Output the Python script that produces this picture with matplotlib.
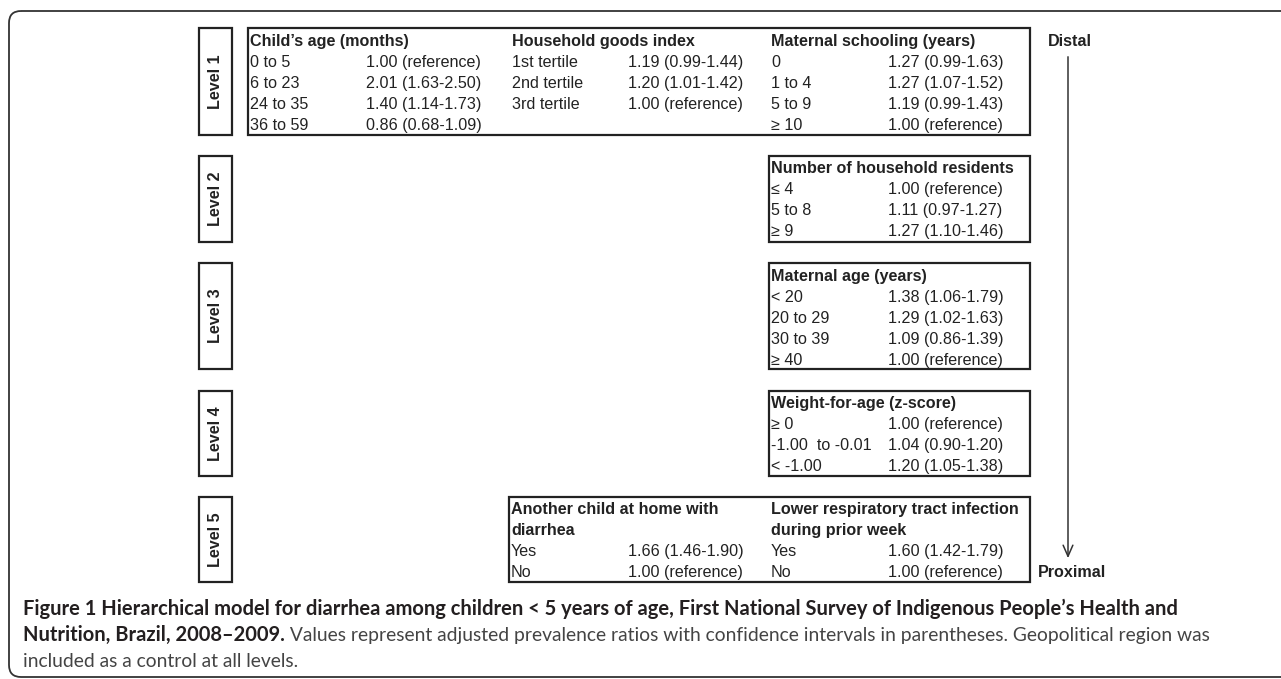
import matplotlib.pyplot as plt
from matplotlib.patches import Rectangle, FancyBboxPatch

# ---- data (adjusted prevalence ratios, None = reference) ----
child_age_cats = ['0 to 5', '6 to 23', '24 to 35', '36 to 59']
child_age_pr = [1.00, 2.01, 1.40, 0.86]
child_age_ci = [None, (1.63, 2.50), (1.14, 1.73), (0.68, 1.09)]

goods_cats = ['1st tertile', '2nd tertile', '3rd tertile']
goods_pr = [1.19, 1.20, 1.00]
goods_ci = [(0.99, 1.44), (1.01, 1.42), None]

school_cats = ['0', '1 to 4', '5 to 9', '\u2265 10']
school_pr = [1.27, 1.27, 1.19, 1.00]
school_ci = [(0.99, 1.63), (1.07, 1.52), (0.99, 1.43), None]

residents_cats = ['\u2264 4', '5 to 8', '\u2265 9']
residents_pr = [1.00, 1.11, 1.27]
residents_ci = [None, (0.97, 1.27), (1.10, 1.46)]

mat_age_cats = ['< 20', '20 to 29', '30 to 39', '\u2265 40']
mat_age_pr = [1.38, 1.29, 1.09, 1.00]
mat_age_ci = [(1.06, 1.79), (1.02, 1.63), (0.86, 1.39), None]

wfa_cats = ['\u2265 0', '-1.00  to -0.01', '< -1.00']
wfa_pr = [1.00, 1.04, 1.20]
wfa_ci = [None, (0.90, 1.20), (1.05, 1.38)]

sibling_cats = ['Yes', 'No']
sibling_pr = [1.66, 1.00]
sibling_ci = [(1.46, 1.90), None]

lrti_cats = ['Yes', 'No']
lrti_pr = [1.60, 1.00]
lrti_ci = [(1.42, 1.79), None]

levels = ['Level 1', 'Level 2', 'Level 3', 'Level 4', 'Level 5']


def fmt(pr, ci):
    if ci is None:
        return f'{pr:.2f} (reference)'
    return f'{pr:.2f} ({ci[0]:.2f}-{ci[1]:.2f})'


FONT = ['Liberation Sans', 'DejaVu Sans']
FS = 11.6
INK = '#222222'
BASE = 5.6  # row centre -> text baseline

fig = plt.figure(figsize=(12.81, 6.79), dpi=100)
ax = fig.add_axes([0, 0, 1, 1])
ax.set_xlim(0, 1281)
ax.set_ylim(679, 0)
ax.axis('off')

# outer frame (open on the right)
ax.add_patch(FancyBboxPatch((9, 11), 1400, 666, boxstyle='round,pad=0,rounding_size=12',
                            fill=False, lw=1.3, ec='#333333'))


def label(x, y, s, bold=False):
    ax.text(x, y + BASE, s, fontsize=FS, fontweight='bold' if bold else 'normal',
            family=FONT, color=INK, va='baseline')


def block(x_lab, x_val, y_head, title_lines, cats, prs, cis, dy=21):
    y = y_head
    for t in title_lines:
        label(x_lab, y, t, bold=True)
        y += dy
    for c, p, ci in zip(cats, prs, cis):
        label(x_lab, y, c)
        label(x_val, y, fmt(p, ci))
        y += dy


def box(x0, y0, x1, y1):
    ax.add_patch(Rectangle((x0, y0), x1 - x0, y1 - y0, fill=False, lw=1.6, ec=INK))


# level label boxes
level_y = [(28, 135), (156, 242), (263, 369), (391, 476), (497, 582)]
for name, (y0, y1) in zip(levels, level_y):
    box(199, y0, 232, y1)
    ax.text(215.5, (y0 + y1) / 2, name, rotation=90, fontsize=FS, fontweight='bold',
            family=FONT, color=INK, ha='center', va='center')

# Level 1
box(248, 28, 1030, 135)
block(250, 366, 40, ["Child\u2019s age (months)"], child_age_cats, child_age_pr, child_age_ci)
block(512, 628, 40, ['Household goods index'], goods_cats, goods_pr, goods_ci)
block(771, 888, 40, ['Maternal schooling (years)'], school_cats, school_pr, school_ci)

# Level 2
box(769, 156, 1030, 242)
block(771, 888, 167, ['Number of household residents'], residents_cats, residents_pr, residents_ci)

# Level 3
box(769, 263, 1030, 369)
block(771, 888, 275, ['Maternal age (years)'], mat_age_cats, mat_age_pr, mat_age_ci)

# Level 4
box(769, 391, 1030, 476)
block(771, 888, 402, ['Weight-for-age (z-score)'], wfa_cats, wfa_pr, wfa_ci)

# Level 5
box(509, 497, 1030, 582)
block(511, 628, 508, ['Another child at home with', 'diarrhea'], sibling_cats, sibling_pr, sibling_ci)
block(771, 888, 508, ['Lower respiratory tract infection', 'during prior week'], lrti_cats, lrti_pr, lrti_ci)

# distal -> proximal arrow
label(1048, 40, 'Distal', bold=True)
label(1038, 571, 'Proximal', bold=True)
ax.annotate('', xy=(1068, 561), xytext=(1068, 54),
            arrowprops=dict(arrowstyle='->,head_length=0.8,head_width=0.35', lw=1.1, color='#333333'))

# caption: bold runs and regular runs set side by side
CAP = ['Lato', 'DejaVu Sans']
renderer = fig.canvas.get_renderer()


def run(x, y, s, bold):
    t = ax.text(x, y, s, fontsize=14.5 if bold else 13.9, family=CAP,
                fontweight='bold' if bold else 'normal',
                color='#231f20' if bold else '#444444', va='baseline')
    bb = t.get_window_extent(renderer)
    return x + bb.width


cap_lines = [
    [("Figure 1 Hierarchical model for diarrhea among children < 5 years of age, First National Survey of "
      "Indigenous People\u2019s Health and", True)],
    [('Nutrition, Brazil, 2008\u20132009.', True),
     (' Values represent adjusted prevalence ratios with confidence intervals in parentheses. '
      'Geopolitical region was', False)],
    [('included as a control at all levels.', False)],
]
for line, yb in zip(cap_lines, [615, 641, 667]):
    x = 23
    for s, b in line:
        x = run(x, yb, s, b)

fig.savefig('out.png', dpi=100)
